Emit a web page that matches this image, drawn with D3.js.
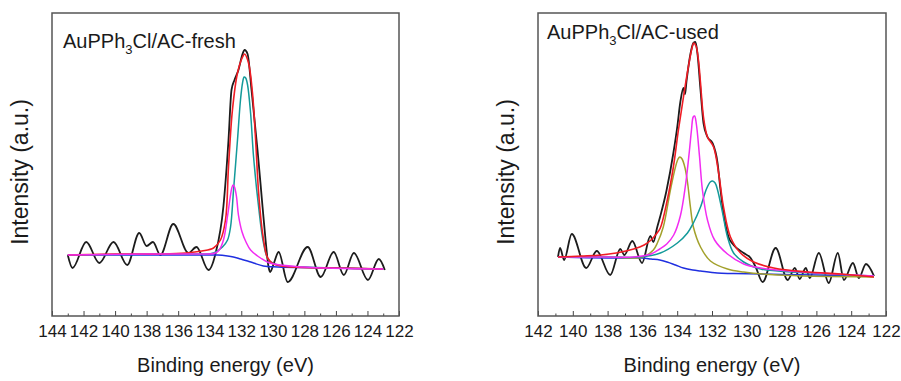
<!DOCTYPE html>
<html>
<head>
<meta charset="utf-8">
<script src="https://cdn.jsdelivr.net/npm/d3@7"></script>
<style>
  body { margin: 0; background: #fff; }
  svg text { font-family: "Liberation Sans", Arial, sans-serif; fill: #1a1a1a; }
</style>
</head>
<body>
<div id="chart"></div>
<script>
// binding energy (eV) / intensity (a.u.) pairs

// AuPPh3Cl/AC-fresh
const freshRaw = [[143.0,61],[142.7,48],[141.83,74],[141.0,53],[140.1,74],[139.23,51],[138.47,83],[138.0,70],[137.6,74],[137.13,61],[136.31,92],[135.35,63],[134.84,69],[134.08,46],[133.64,62],[133.13,110],[132.81,176],[132.62,226],[132.43,236],[132.18,246],[131.92,262],[131.79,266],[131.6,262],[131.35,226],[130.97,166],[130.65,109],[130.46,76],[130.27,49],[130.17,44],[129.95,52],[129.63,64],[129.06,34],[127.79,69],[126.96,39],[126.14,64],[125.5,41],[124.86,63],[123.97,36],[123.28,57],[122.9,46]];
const freshFit = [[143.0,61],[140,62],[137,62],[135.5,63],[134.5,65],[133.76,68],[133.32,76],[133.0,96],[132.81,149],[132.56,206],[132.24,243],[131.92,259],[131.79,262],[131.54,253],[131.29,223],[131.09,176],[130.9,123],[130.65,83],[130.33,58],[129.95,52],[128.87,49],[126,48],[123.0,47]];
const freshPeakA = [[143,61],[136,62],[134.5,62],[133.76,63],[133.19,69],[132.87,76],[132.68,89],[132.49,126],[132.24,176],[132.05,216],[131.92,233],[131.82,239],[131.72,238],[131.6,231],[131.41,203],[131.22,159],[130.9,109],[130.59,73],[130.27,56],[129.7,51],[128,49],[123,47]];
const freshPeakB = [[143,61],[138,62],[136,62],[134.5,62],[133.64,63],[133.4,66],[133.13,76],[132.87,100],[132.7,119],[132.6,128],[132.52,131],[132.43,129],[132.3,119],[132.18,101],[131.95,84],[131.7,74],[131.41,66],[130.78,58],[130.2,53],[128.1,49],[123,47]];
const freshBg = [[143,61],[138,61],[135,61],[133.5,61],[132.87,60],[132.5,59],[132.05,57],[131.6,55],[131.22,53],[130.6,50],[129.7,49],[126,48],[123,47]];

// AuPPh3Cl/AC-used
const usedRaw = [[140.85,59],[140.73,68],[140.5,56],[140.06,82],[139.23,48],[138.62,65],[137.85,41],[137.27,67],[137.04,61],[136.58,75],[136.02,53],[135.54,80],[135.37,74],[135.16,88],[134.97,100],[134.62,125],[134.22,163],[133.99,190],[133.82,214],[133.64,228],[133.55,222],[133.47,234],[133.24,262],[133.07,273],[132.95,274],[132.84,263],[132.66,226],[132.49,193],[132.26,179],[131.97,173],[131.68,153],[131.51,126],[131.34,103],[131.05,79],[130.76,71],[130.18,63],[129.78,58],[129.49,49],[129.09,34],[128.34,68],[127.65,36],[127.24,48],[126.96,37],[126.61,48],[126.38,38],[125.86,63],[125.29,33],[124.77,63],[124.42,36],[123.9,53],[123.56,38],[123.15,52],[122.69,40]];
const usedFit = [[140.85,59],[139.5,60],[138.4,61],[137.5,63],[136.5,67],[135.9,71],[135.5,76],[135.2,82],[134.97,88],[134.57,116],[134.22,149],[133.93,186],[133.64,219],[133.36,249],[133.15,268],[133.05,273],[132.92,270],[132.78,256],[132.66,233],[132.49,199],[132.26,179],[131.91,169],[131.62,143],[131.34,109],[130.94,79],[130.36,63],[129.6,54],[128.45,48],[126.5,44],[124.6,42],[122.69,39]];
const usedPeakA = [[140.85,59],[138,59],[136.5,58],[135.95,59],[135.37,66],[135.14,73],[134.8,89],[134.39,126],[134.1,149],[133.95,157],[133.85,159],[133.72,157],[133.55,148],[133.41,134],[133.24,109],[133.07,89],[132.66,69],[132.09,55],[131.11,47],[130.18,44],[128.22,41],[122.69,39]];
const usedPeakB = [[140.85,59],[138,59],[136.5,59],[135.5,62],[135.0,67],[134.6,72],[134.2,81],[133.82,100],[133.53,130],[133.3,165],[133.18,186],[133.08,199],[133.0,200],[132.9,192],[132.72,160],[132.55,126],[132.26,96],[131.85,76],[131.11,62],[130.18,52],[129.2,48],[128.2,46],[126,43],[122.69,40]];
const usedPeakC = [[140.85,59],[138,59],[136.12,59],[134.97,63],[133.99,73],[133.41,83],[133.07,93],[132.66,109],[132.32,127],[132.1,134],[131.97,135],[131.82,133],[131.68,126],[131.39,103],[131.11,79],[130.76,63],[130.18,54],[129.2,47],[128.22,45],[122.69,40]];
const usedBg = [[140.85,59],[138,58],[136,58],[135.5,57],[135,56],[134.58,54],[134.1,51],[133.64,48],[133.1,46],[132.66,45],[131.7,43],[130.76,42.5],[126,41],[122.69,40]];

const freshTicks = [144, 142, 140, 138, 136, 134, 132, 130, 128, 126, 124, 122];
const usedTicks = [142, 140, 138, 136, 134, 132, 130, 128, 126, 124, 122];

const svg = d3.select('#chart')
  .append('svg')
  .attr('width', 901)
  .attr('height', 381);

// one panel = frame + axis + curves
function drawPanel(opts) {
  const x = d3.scaleLinear().domain(opts.domain).range([opts.left, opts.right]);
  const y = d3.scaleLinear().domain([0, 303]).range([316, 13]);

  const g = svg.append('g');

  // minor ticks on every odd eV
  const minor = d3.range(opts.domain[1] + 1, opts.domain[0], 2);
  g.append('g')
    .attr('transform', 'translate(0,316)')
    .call(d3.axisBottom(x).tickValues(minor).tickSize(-2.5).tickFormat(''))
    .call(a => a.select('.domain').remove())
    .selectAll('line').attr('stroke', '#444');

  g.append('g')
    .attr('transform', 'translate(0,316)')
    .call(d3.axisBottom(x).tickValues(opts.ticks).tickSize(-5).tickPadding(9).tickFormat(d3.format('d')))
    .call(a => a.select('.domain').remove())
    .call(a => a.selectAll('line').attr('stroke', '#444'))
    .selectAll('text')
    .style('font-size', '17px')
    .attr('fill', '#1a1a1a');

  const rawLine = d3.line()
    .x(d => x(d[0]))
    .y(d => y(d[1]))
    .curve(d3.curveMonotoneX);
  const fitLine = d3.line()
    .x(d => x(d[0]))
    .y(d => y(d[1]))
    .curve(d3.curveCatmullRom.alpha(0.5));

  opts.series.forEach((s, i) => {
    g.append('path')
      .datum(s.data)
      .attr('fill', 'none')
      .attr('stroke', s.color)
      .attr('stroke-width', s.width)
      .attr('d', i === 0 ? rawLine : fitLine);
  });

  // frame
  g.append('rect')
    .attr('x', opts.left)
    .attr('y', 13)
    .attr('width', opts.right - opts.left)
    .attr('height', 303)
    .attr('fill', 'none')
    .attr('stroke', '#555')
    .attr('stroke-width', 1.5);

  const title = g.append('text')
    .attr('x', opts.left + opts.titleDx)
    .attr('y', opts.titleY)
    .style('font-size', '20px');
  title.append('tspan').text('AuPPh');
  title.append('tspan').attr('dy', 6).style('font-size', '13px').text('3');
  title.append('tspan').attr('dy', -6).text(opts.suffix);

  g.append('text')
    .attr('x', (opts.left + opts.right) / 2)
    .attr('y', 372)
    .attr('text-anchor', 'middle')
    .style('font-size', '20px')
    .text('Binding energy (eV)');

  g.append('text')
    .attr('transform', 'rotate(-90)')
    .attr('x', -172)
    .attr('y', opts.left - 24)
    .attr('text-anchor', 'middle')
    .style('font-size', '23px')
    .text('Intensity (a.u.)');
}

drawPanel({
  domain: [144, 122], left: 52, right: 399, ticks: freshTicks,
  titleDx: 11, titleY: 48, suffix: 'Cl/AC-fresh',
  series: [
    { data: freshRaw, color: '#1c1c1c', width: 1.8 },
    { data: freshBg, color: '#1f2fe0', width: 1.5 },
    { data: freshPeakA, color: '#139a9a', width: 1.5 },
    { data: freshFit, color: '#f01c24', width: 1.6 },
    { data: freshPeakB, color: '#f22cf2', width: 1.5 }
  ]
});

drawPanel({
  domain: [142, 122], left: 538, right: 886, ticks: usedTicks,
  titleDx: 9, titleY: 39, suffix: 'Cl/AC-used',
  series: [
    { data: usedRaw, color: '#1c1c1c', width: 1.8 },
    { data: usedBg, color: '#1f2fe0', width: 1.5 },
    { data: usedPeakA, color: '#a3a12c', width: 1.5 },
    { data: usedPeakC, color: '#139a9a', width: 1.5 },
    { data: usedPeakB, color: '#f22cf2', width: 1.5 },
    { data: usedFit, color: '#f01c24', width: 1.6 }
  ]
});
</script>
</body>
</html>
